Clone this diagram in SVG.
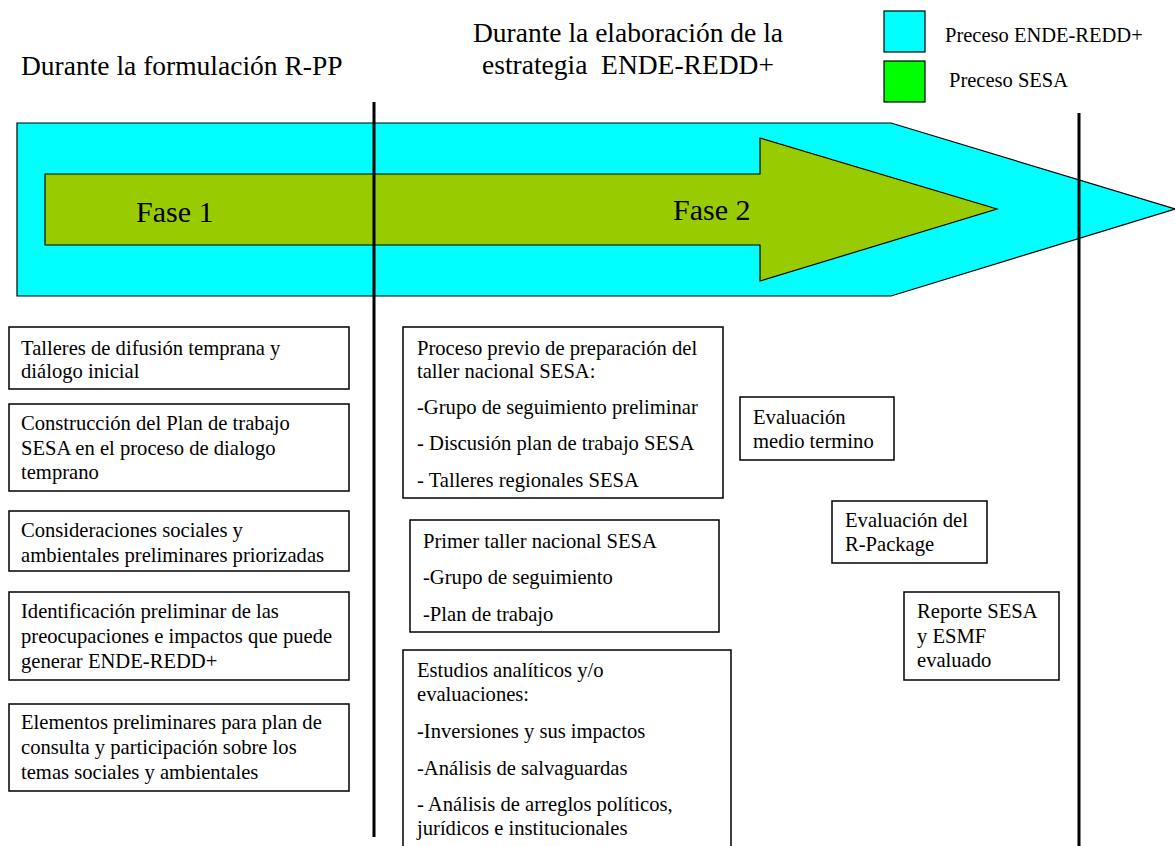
<svg xmlns="http://www.w3.org/2000/svg" width="1175" height="846" viewBox="0 0 1175 846" font-family="'Liberation Serif', 'Times New Roman', serif">
<style>
text{font-family:"Liberation Serif","Times New Roman",serif;fill:#000}
.h{font-size:27.5px}
.f{font-size:30px}
.lg{font-size:20.5px}
.t{font-size:20.6px}
.box{fill:#fff;stroke:#000;stroke-width:1.5}
.vl{stroke:#000;stroke-width:3;fill:none}
</style>
<rect width="1175" height="846" fill="#fff"/>
<g id="headings">
<text class="h" x="21" y="75">Durante la formulación R-PP</text>
<text class="h" x="473" y="42">Durante la elaboración de la</text>
<text class="h" x="482" y="74" xml:space="preserve">estrategia  ENDE-REDD+</text>
</g>
<g id="legend">
<rect x="884" y="11" width="41" height="41" fill="#00FFFF" stroke="#000" stroke-width="1.2"/>
<text class="lg" x="945" y="41.5">Preceso ENDE-REDD+</text>
<rect x="884" y="61" width="41" height="41" fill="#00FF00" stroke="#000" stroke-width="1.2"/>
<text class="lg" x="949" y="86.5">Preceso SESA</text>
</g>
<g id="process-arrow">
<polygon points="17,123 891,123 1175,209 891,296 17,296" fill="#00FFFF" stroke="#000" stroke-width="1.2"/>
</g>
<g id="sesa-arrow">
<polygon points="45,174 760,174 760,138 997,209 760,281 760,245 45,245" fill="#99CC00" stroke="#000" stroke-width="1.2"/>
<text class="f" x="136" y="222">Fase 1</text>
<text class="f" x="673" y="219.5">Fase 2</text>
</g>
<g id="dividers">
<line class="vl" x1="374" y1="102" x2="374" y2="837"/>
<line class="vl" x1="1079" y1="113" x2="1079" y2="846"/>
</g>
<g id="box-talleres">
<rect class="box" x="9" y="327" width="340" height="62"/>
<text class="t" x="21" y="355">Talleres de difusión temprana y</text>
<text class="t" x="21" y="378">diálogo inicial</text>
</g>
<g id="box-construccion">
<rect class="box" x="9" y="404" width="340" height="87"/>
<text class="t" x="21" y="430">Construcción del Plan de trabajo</text>
<text class="t" x="21" y="455">SESA en el proceso de dialogo</text>
<text class="t" x="21" y="479">temprano</text>
</g>
<g id="box-consideraciones">
<rect class="box" x="9" y="511" width="340" height="60"/>
<text class="t" x="21" y="537">Consideraciones sociales y</text>
<text class="t" x="21" y="562">ambientales preliminares priorizadas</text>
</g>
<g id="box-identificacion">
<rect class="box" x="9" y="592" width="340" height="88"/>
<text class="t" x="21" y="618">Identificación preliminar de las</text>
<text class="t" x="21" y="643">preocupaciones e impactos que puede</text>
<text class="t" x="21" y="668">generar ENDE-REDD+</text>
</g>
<g id="box-elementos">
<rect class="box" x="9" y="704" width="340" height="87"/>
<text class="t" x="21" y="729">Elementos preliminares para plan de</text>
<text class="t" x="21" y="754">consulta y participación sobre los</text>
<text class="t" x="21" y="779">temas sociales y ambientales</text>
</g>
<g id="box-proceso-previo">
<rect class="box" x="403" y="327" width="320" height="171"/>
<text class="t" x="417" y="355">Proceso previo de preparación del</text>
<text class="t" x="417" y="378">taller nacional SESA:</text>
<text class="t" x="417" y="414">-Grupo de seguimiento preliminar</text>
<text class="t" x="417" y="450">- Discusión plan de trabajo SESA</text>
<text class="t" x="417" y="487">- Talleres regionales SESA</text>
</g>
<g id="box-primer-taller">
<rect class="box" x="410" y="520" width="309" height="112"/>
<text class="t" x="423" y="548">Primer taller nacional SESA</text>
<text class="t" x="423" y="584">-Grupo de seguimiento</text>
<text class="t" x="423" y="621">-Plan de trabajo</text>
</g>
<g id="box-estudios">
<rect class="box" x="403" y="650" width="328" height="210"/>
<text class="t" x="417" y="677">Estudios analíticos y/o</text>
<text class="t" x="417" y="701">evaluaciones:</text>
<text class="t" x="417" y="738">-Inversiones y sus impactos</text>
<text class="t" x="417" y="775">-Análisis de salvaguardas</text>
<text class="t" x="417" y="811">- Análisis de arreglos políticos,</text>
<text class="t" x="417" y="835">jurídicos e institucionales</text>
</g>
<g id="box-eval-medio">
<rect class="box" x="740" y="397" width="154" height="63"/>
<text class="t" x="753" y="424">Evaluación</text>
<text class="t" x="753" y="448">medio termino</text>
</g>
<g id="box-eval-rpackage">
<rect class="box" x="832" y="501" width="155" height="62"/>
<text class="t" x="845" y="527">Evaluación del</text>
<text class="t" x="845" y="551">R-Package</text>
</g>
<g id="box-reporte">
<rect class="box" x="904" y="592" width="155" height="88"/>
<text class="t" x="917" y="618">Reporte SESA</text>
<text class="t" x="917" y="643">y ESMF</text>
<text class="t" x="917" y="667">evaluado</text>
</g>
</svg>
